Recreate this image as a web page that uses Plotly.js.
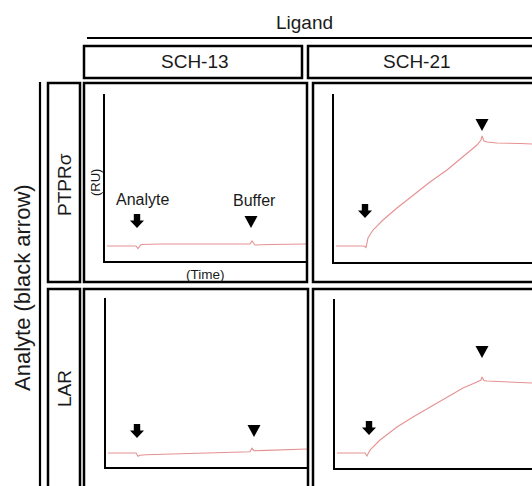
<!DOCTYPE html>
<html>
<head>
<meta charset="utf-8">
<script src="https://cdn.plot.ly/plotly-3.0.1.min.js"></script>
<style>html,body{margin:0;padding:0;background:#fff;}#chart{width:532px;height:486px;}</style>
</head>
<body>
<div id="chart"></div>
<script>
// ---------- data ----------
const ligands = ['SCH-13', 'SCH-21'];
const analytes = ['PTPRσ', 'LAR'];

// time (s) and response (RU) for each ligand / analyte pair
const t_PTPR_SCH13 = [6, 45, 93, 99, 108, 165, 285, 435, 441, 450, 495, 555, 606];
const r_PTPR_SCH13 = [0, 0, 0, -2.5, 1.5, 2, 2, 2, 5, 1, 1.5, 2, 2];

const t_PTPR_SCH21 = [6, 48, 90, 96, 102, 117, 147, 189, 237, 288, 339, 387, 429, 441, 444, 450, 459, 489, 528, 558, 594];
const r_PTPR_SCH21 = [0, 0, 0, -1.5, 8, 16, 26, 38, 51, 64, 76, 89, 101, 106, 110, 105, 104, 103, 103, 102.5, 102];

const t_LAR_SCH13 = [6, 45, 90, 96, 102, 120, 222, 342, 432, 438, 444, 480, 522, 606];
const r_LAR_SCH13 = [0, 0, 0, -3.3, -2.3, -1.8, -1, 0, 1.2, 4.7, 2.3, 2.6, 3, 4];

const t_LAR_SCH21 = [6, 45, 90, 96, 105, 135, 186, 234, 285, 336, 384, 426, 438, 441, 447, 456, 504, 555, 591];
const r_LAR_SCH21 = [0, 0, 0, -3, 3, 13, 26, 36, 46, 56, 65, 71, 73, 76, 72.5, 72, 71, 70.5, 70];

// event times (s) per panel: [PTPR/SCH-13, PTPR/SCH-21, LAR/SCH-13, LAR/SCH-21]
const analyteInjection = [96, 93, 93, 102];
const bufferInjection = [438, 444, 444, 441];
const arrowLevel = [18, 28, 15, 18];
const triangleLevel = [18, 115, 16, 95];

// ---------- layout helpers ----------
const W = 532, H = 486;
const px = x => x / W;
const py = y => 1 - y / H;
const FONT = 'Liberation Sans, Arial, Helvetica, sans-serif';
const TXT = '#1a1a1a';
const LINE = 'rgb(230,145,145)';

const series = [
  [t_PTPR_SCH13, r_PTPR_SCH13],
  [t_PTPR_SCH21, r_PTPR_SCH21],
  [t_LAR_SCH13, r_LAR_SCH13],
  [t_LAR_SCH21, r_LAR_SCH21]
];

// panel pixel boxes: [xLeft(y-axis), xRight, yBottom(x-axis), yTop]
const boxes = [
  [105, 307, 261, 94],
  [334, 532, 262, 94],
  [106, 308, 467, 298],
  [335, 532, 468, 299]
];

const traces = series.map((s, i) => ({
  x: s[0], y: s[1], type: 'scatter', mode: 'lines',
  line: {color: LINE, width: 1.1},
  xaxis: 'x' + (i ? i + 1 : ''), yaxis: 'y' + (i ? i + 1 : ''),
  hoverinfo: 'skip'
}));

const layout = {
  width: W, height: H,
  margin: {l: 0, r: 0, t: 0, b: 0},
  paper_bgcolor: '#fff', plot_bgcolor: 'rgba(0,0,0,0)',
  showlegend: false,
  font: {family: FONT, color: TXT},
  shapes: [], annotations: []
};

boxes.forEach((b, i) => {
  const sfx = i ? i + 1 : '';
  const pxPerS = 1 / 3;
  layout['xaxis' + sfx] = {
    domain: [px(b[0]), px(b[1])], range: [0, (b[1] - b[0]) / pxPerS],
    anchor: 'y' + sfx, showline: true, linecolor: '#000', linewidth: 2.2,
    showgrid: false, zeroline: false, showticklabels: false, ticks: '', fixedrange: true
  };
  const span = b[2] - b[3];
  const lo = -(b[2] - (i < 2 ? 246 : 453));
  layout['yaxis' + sfx] = {
    domain: [py(b[2]), py(b[3])], range: [lo, lo + span],
    anchor: 'x' + sfx, showline: true, linecolor: '#000', linewidth: 2.2,
    showgrid: false, zeroline: false, showticklabels: false, ticks: '', fixedrange: true
  };
  // analyte arrow (block arrow, tip at anchor)
  layout.shapes.push({
    type: 'path', xref: 'x' + sfx, yref: 'y' + sfx,
    xsizemode: 'pixel', ysizemode: 'pixel',
    xanchor: analyteInjection[i], yanchor: arrowLevel[i],
    path: 'M0,0 L-7,7.5 L-3.2,7.5 L-3.2,14 L3.2,14 L3.2,7.5 L7,7.5 Z',
    fillcolor: '#000', line: {width: 0}
  });
  // buffer triangle
  layout.shapes.push({
    type: 'path', xref: 'x' + sfx, yref: 'y' + sfx,
    xsizemode: 'pixel', ysizemode: 'pixel',
    xanchor: bufferInjection[i], yanchor: triangleLevel[i],
    path: 'M0,0 L-6.5,12 L6.5,12 Z',
    fillcolor: '#000', line: {width: 0}
  });
});

function rect(x0, y0, x1, y1, w) {
  layout.shapes.push({type: 'rect', xref: 'paper', yref: 'paper',
    x0: px(x0), x1: px(x1), y0: py(y1), y1: py(y0),
    line: {color: '#000', width: w || 2.5}, fillcolor: 'rgba(0,0,0,0)', layer: 'above'});
}
function line(x0, y0, x1, y1, w) {
  layout.shapes.push({type: 'line', xref: 'paper', yref: 'paper',
    x0: px(x0), x1: px(x1), y0: py(y0), y1: py(y1),
    line: {color: '#000', width: w || 2.2}});
}
// panel frames
rect(84, 83, 307, 282);
rect(313, 83, 545, 282);
rect(84, 289, 308, 500);
rect(313, 289, 545, 500);
// strip boxes
rect(84, 46, 302, 78);
rect(308, 46, 545, 78);
rect(48, 83, 80, 282);
rect(48, 289, 80, 500);
// group lines
line(87, 38, 532, 38);
line(40, 82, 40, 486);

function label(text, x, y, size, angle) {
  layout.annotations.push({text: text, xref: 'paper', yref: 'paper',
    x: px(x), y: py(y), xanchor: 'center', yanchor: 'middle',
    showarrow: false, textangle: angle || 0,
    font: {family: FONT, size: size, color: TXT}});
}
label('Ligand', 304, 22, 19);
label(ligands[0], 195, 62, 19);
label(ligands[1], 417, 62, 19);
label(analytes[0], 64, 185, 19, -90);
label(analytes[1], 64, 389, 19, -90);
label('Analyte (black arrow)', 22, 288, 22, -90);
label('(RU)', 95, 183, 13, -90);
label('(Time)', 205, 274, 13.5);

// event labels in first panel
layout.annotations.push({text: 'Analyte', xref: 'x', yref: 'y',
  x: analyteInjection[0], y: arrowLevel[0], xshift: 5, yshift: 29,
  showarrow: false, font: {family: FONT, size: 16, color: TXT}});
layout.annotations.push({text: 'Buffer', xref: 'x', yref: 'y',
  x: bufferInjection[0], y: triangleLevel[0], xshift: 3, yshift: 28,
  showarrow: false, font: {family: FONT, size: 16, color: TXT}});

Plotly.newPlot('chart', traces, layout, {staticPlot: true, displayModeBar: false});
</script>
</body>
</html>
